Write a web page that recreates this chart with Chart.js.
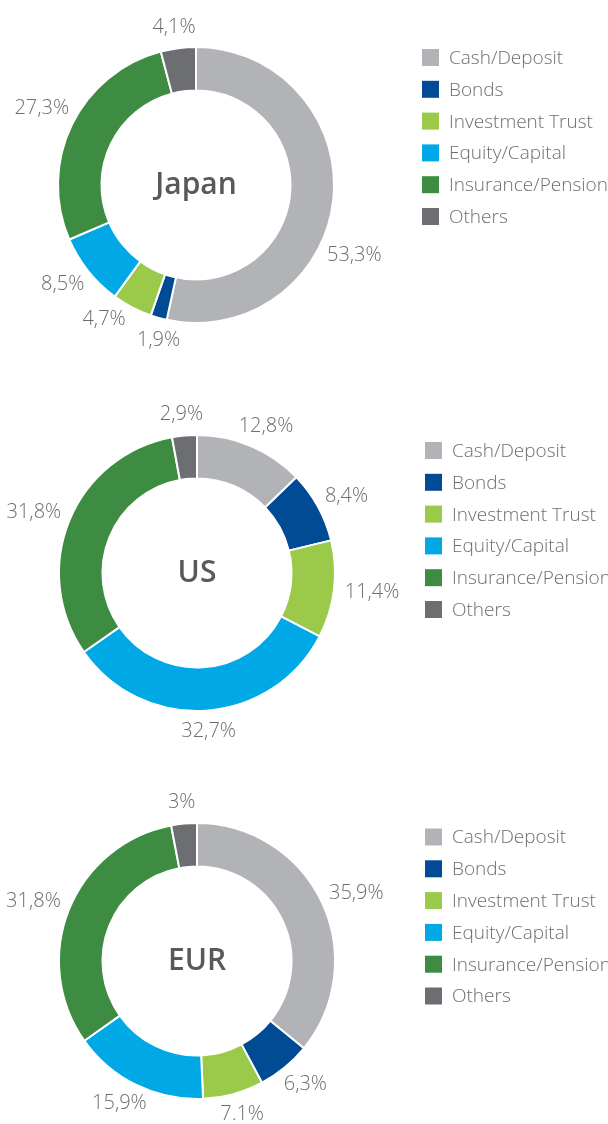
<!DOCTYPE html>
<html>
<head>
<meta charset="utf-8">
<script src="https://cdn.jsdelivr.net/npm/chart.js@4.4.1/dist/chart.umd.min.js"></script>
<style>
  body { margin: 0; background: #fff; width: 608px; height: 1124px; overflow: hidden; position: relative; }
  canvas { position: absolute; left: 0; }
</style>
</head>
<body>
<canvas id="japan" width="608" height="380" style="top:0"></canvas>
<canvas id="us" width="608" height="390" style="top:380px"></canvas>
<canvas id="eur" width="608" height="354" style="top:770px"></canvas>
<script>
const categories = ['Cash/Deposit', 'Bonds', 'Investment Trust', 'Equity/Capital', 'Insurance/Pension', 'Others']
const colors = ['#b1b3b6', '#004b93', '#9bc94a', '#00a9e6', '#3e8c41', '#6d6e71']

const japanValues = [53.3, 1.9, 4.7, 8.5, 27.3, 4.1]
const japanLabels = ['53,3%', '1,9%', '4,7%', '8,5%', '27,3%', '4,1%']

const usValues = [12.8, 8.4, 11.4, 32.7, 31.8, 2.9]
const usLabels = ['12,8%', '8,4%', '11,4%', '32,7%', '31,8%', '2,9%']

const eurValues = [35.9, 6.3, 7.1, 15.9, 31.8, 3]
const eurLabels = ['35,9%', '6,3%', '7.1%', '15,9%', '31,8%', '3%']

const FONT = '"Open Sans", "Noto Sans", sans-serif'
const TEXT = '#6d6e71'

// draws the percent labels, the title in the hole and the legend on the right
const donutText = {
  id: 'donutText',
  afterDatasetsDraw(chart, args, opts) {
    const ctx = chart.ctx
    const arcs = chart.getDatasetMeta(0).data
    ctx.save()

    arcs.forEach((arc, i) => {
      const { x, y, startAngle, endAngle, outerRadius } = arc.getProps(['x', 'y', 'startAngle', 'endAngle', 'outerRadius'], true)
      const nudge = (opts.nudge ? opts.nudge[i] : 0) * Math.PI / 180
      const a = (startAngle + endAngle) / 2 + nudge
      const dx = Math.cos(a), dy = Math.sin(a)
      ctx.font = '300 20px ' + FONT
      const halfW = ctx.measureText(opts.texts[i]).width / 2
      const d = outerRadius + 11
      ctx.fillStyle = TEXT
      ctx.textAlign = 'center'
      ctx.textBaseline = 'middle'
      ctx.fillText(opts.texts[i], x + dx * (d + halfW), y + dy * (d + 10))
    })

    const c = arcs[0]
    ctx.font = '600 30px ' + FONT
    ctx.fillStyle = '#58595b'
    ctx.textAlign = 'center'
    ctx.textBaseline = 'middle'
    ctx.fillText(opts.title, c.x, c.y)

    const labels = chart.data.labels
    const bg = chart.data.datasets[0].backgroundColor
    ctx.font = '300 19px ' + FONT
    ctx.textAlign = 'left'
    labels.forEach((lab, i) => {
      const cy = opts.legendY + i * 31.8
      ctx.fillStyle = bg[i]
      ctx.fillRect(opts.legendX, cy - 8.5, 17, 17)
      ctx.fillStyle = TEXT
      ctx.fillText(lab, opts.legendX + 27, cy + 1)
    })
    ctx.restore()
  }
}

function makeDonut(id, values, texts, title, padding, legendX, legendY, nudge) {
  return new Chart(document.getElementById(id), {
    type: 'doughnut',
    data: {
      labels: categories,
      datasets: [{
        data: values,
        backgroundColor: colors,
        borderColor: '#fff',
        borderWidth: 2,
        hoverOffset: 0
      }]
    },
    options: {
      responsive: false,
      animation: false,
      cutout: '68.5%',
      layout: { padding: padding },
      events: [],
      plugins: {
        legend: { display: false },
        tooltip: { enabled: false },
        donutText: { title: title, texts: texts, legendX: legendX, legendY: legendY, nudge: nudge }
      }
    },
    plugins: [donutText]
  })
}

makeDonut('japan', japanValues, japanLabels, 'Japan',
  { left: 57, top: 46, right: 273, bottom: 56 }, 422, 57.5, [20, -3, 5, 0, 3, 0])
makeDonut('us', usValues, usLabels, 'US',
  { left: 58, top: 54, right: 272, bottom: 58 }, 425, 70.5)
makeDonut('eur', eurValues, eurLabels, 'EUR',
  { left: 58, top: 52, right: 272, bottom: 24 }, 425, 67)
</script>
</body>
</html>
